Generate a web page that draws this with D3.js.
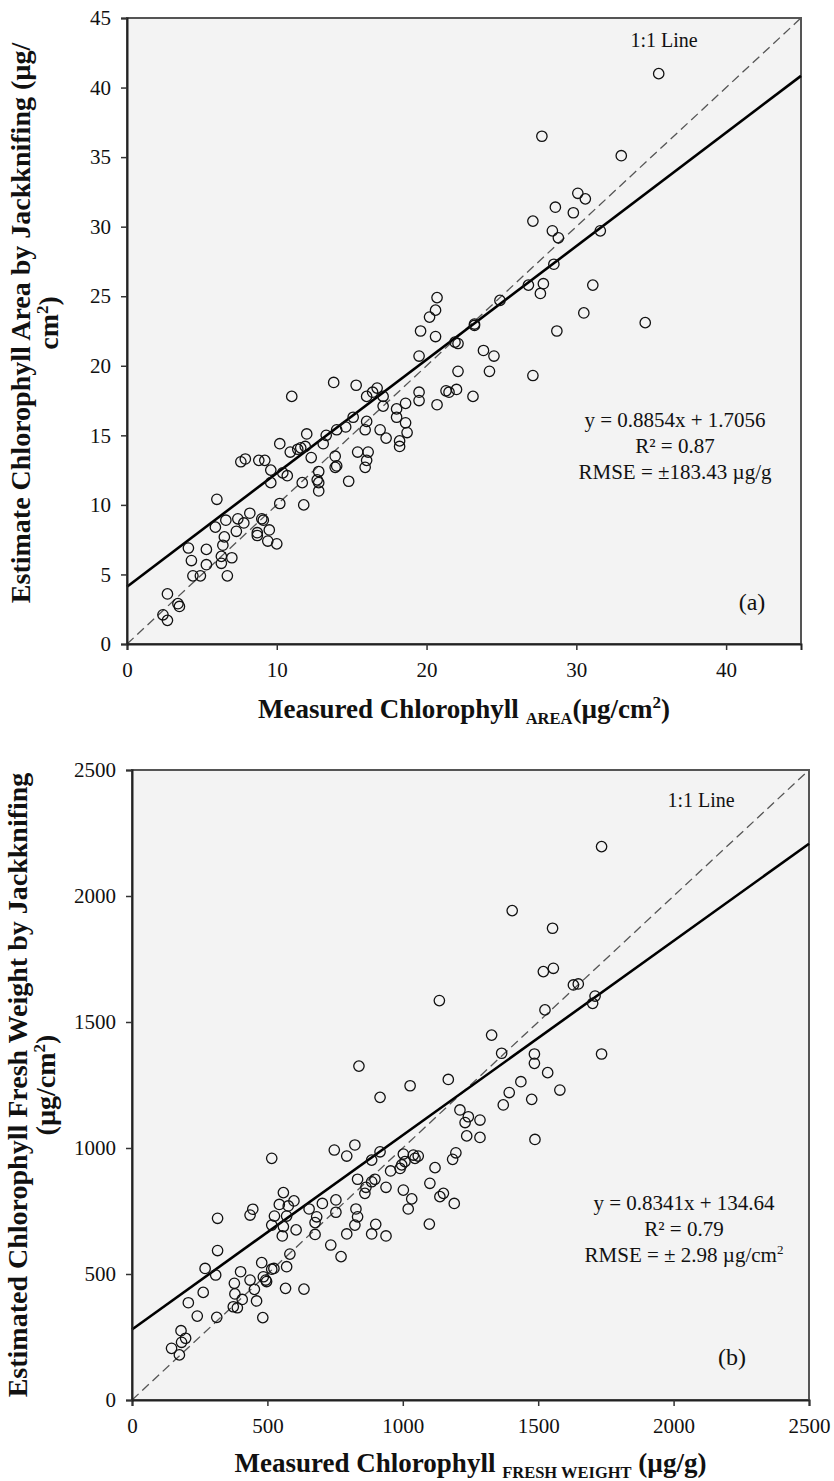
<!DOCTYPE html>
<html>
<head>
<meta charset="utf-8">
<script src="https://cdn.jsdelivr.net/npm/d3@7"></script>
<style>
  body { margin: 0; background: #fff; }
  text { font-family: "Liberation Serif", "Times New Roman", serif; fill: #111; }
</style>
</head>
<body>
<div id="chart"></div>
<script>
// ---- panel (a): chlorophyll per leaf area ----
var areaMeasured = [20.7,20.6,20.2,19.6,20.6,19.5,21.9,22.1,23.2,22.1,19.5,19.5,20.7,21.3,21.5,22.0,23.1,
  13.8,15.3,11.0,16.0,16.4,16.7,17.1,17.1,18.0,18.6,18.0,18.6,18.7,16.9,17.3,18.2,18.2,15.1,14.6,14.0,13.3,
  13.1,16.0,15.9,12.0,11.9,11.6,11.4,10.9,10.2,12.3,7.6,7.9,8.8,9.2,9.6,9.6,10.4,10.7,11.7,12.8,12.7,12.8,
  12.8,13.9,14.0,13.9,15.4,16.1,16.0,15.9,14.8,10.2,11.8,6.0,5.9,6.6,7.4,8.2,9.0,9.1,7.3,7.8,8.7,8.7,9.5,
  9.4,10.0,6.5,6.4,4.1,4.3,5.3,5.3,6.3,6.3,7.0,4.4,4.9,6.7,2.7,3.4,3.5,2.4,2.7,
  35.5,27.7,33.0,30.1,30.6,28.6,29.8,27.1,28.4,28.8,31.6,28.5,26.8,27.8,27.6,31.1,24.9,23.2,30.5,34.6,28.7,
  23.8,24.5,24.2,27.1];
var areaEstimated = [24.9,24.0,23.5,22.5,22.1,20.7,21.7,21.6,22.9,19.6,18.1,17.5,17.2,18.2,18.1,18.3,17.8,
  18.8,18.6,17.8,17.8,18.1,18.4,17.8,17.1,16.9,17.3,16.3,15.9,15.2,15.4,14.8,14.6,14.2,16.3,15.6,15.4,15.0,
  14.4,16.0,15.4,15.1,14.2,14.1,14.0,13.8,14.4,13.4,13.1,13.3,13.2,13.2,12.5,11.6,12.3,12.1,11.6,12.4,11.8,11.6,
  11.0,13.5,12.8,12.7,13.8,13.8,13.2,12.7,11.7,10.1,10.0,10.4,8.4,8.9,9.0,9.4,9.0,8.9,8.1,8.7,8.0,7.8,8.2,
  7.4,7.2,7.7,7.1,6.9,6.0,6.8,5.7,6.3,5.8,6.2,4.9,4.9,4.9,3.6,2.9,2.7,2.1,1.7,
  41.0,36.5,35.1,32.4,32.0,31.4,31.0,30.4,29.7,29.2,29.7,27.3,25.8,25.9,25.2,25.8,24.7,23.0,23.8,23.1,22.5,
  21.1,20.7,19.6,19.3];
var areaTicks = [0, 10, 20, 30, 40];
var areaTicksY = [0, 5, 10, 15, 20, 25, 30, 35, 40, 45];
var areaFit = [4.12, 0.816];   // intercept, slope of the drawn regression line
var areaStats = ["y = 0.8854x + 1.7056", "R² = 0.87", "RMSE = ±183.43 µg/g"];

// ---- panel (b): chlorophyll per fresh weight ----
var freshMeasured = [1135,838,916,1027,1168,1211,1242,
  1734,1404,1553,1519,1556,1630,1648,1710,1701,1525,1328,1365,1734,1486,1486,1535,1436,1393,1371,1476,1580,1285,
  1230,1236,1285,516,747,793,823,916,885,1002,1039,1057,1045,996,990,1008,1196,1184,1119,1100,1150,1137,1190,
  1098,955,897,885,864,860,833,938,1002,1033,1020,827,833,823,793,900,885,938,753,753,703,682,676,676,654,
  734,772,559,544,577,598,571,526,516,559,555,606,436,446,316,316,270,309,263,208,241,313,181,198,183,146,175,
  378,380,374,389,407,401,436,452,460,479,485,494,497,516,524,571,583,567,635,483,1488];
var freshEstimated = [1585,1325,1201,1247,1272,1151,1124,
  2196,1942,1872,1700,1713,1647,1651,1603,1574,1548,1448,1376,1373,1373,1336,1299,1263,1220,1171,1193,1230,1111,
  1101,1048,1042,959,992,968,1012,985,952,976,972,968,959,933,919,946,981,955,922,860,820,807,780,
  698,909,876,866,844,820,876,844,833,798,758,758,727,694,659,697,659,651,794,745,780,727,704,657,758,
  615,569,823,776,770,790,730,730,694,688,651,675,734,757,721,593,522,496,427,386,333,328,275,245,229,205,179,
  463,421,370,366,399,509,476,439,393,545,489,476,470,519,522,529,579,443,440,327,1034];
var freshTicks = [0, 500, 1000, 1500, 2000, 2500];
var freshFit = [280, 0.771];
var freshStats = ["y = 0.8341x + 134.64", "R² = 0.79", "RMSE = ± 2.98 µg/cm"];

var svg = d3.select("#chart").append("svg")
  .attr("width", 834)
  .attr("height", 1481);

function panel(p) {
  var w = p.right - p.left, h = p.bottom - p.top;
  var x = d3.scaleLinear().domain([0, p.max]).range([0, w]);
  var y = d3.scaleLinear().domain([0, p.max]).range([h, 0]);

  var g = svg.append("g").attr("transform", "translate(" + p.left + "," + p.top + ")");

  g.append("rect")
    .attr("width", w).attr("height", h)
    .attr("fill", "#f3f3f3")
    .attr("stroke", "#555").attr("stroke-width", 2);

  // 1:1 line
  g.append("line")
    .attr("x1", x(0)).attr("y1", y(0))
    .attr("x2", x(p.max)).attr("y2", y(p.max))
    .attr("stroke", "#555").attr("stroke-width", 1.3)
    .attr("stroke-dasharray", "9,5");

  // fitted line
  g.append("line")
    .attr("x1", x(0)).attr("y1", y(p.fit[0]))
    .attr("x2", x(p.max)).attr("y2", y(p.fit[0] + p.fit[1] * p.max))
    .attr("stroke", "#000").attr("stroke-width", 2.6);

  g.selectAll("circle.pt")
    .data(d3.zip(p.xs, p.ys))
    .enter().append("circle")
    .attr("class", "pt")
    .attr("cx", d => x(d[0]))
    .attr("cy", d => y(d[1]))
    .attr("r", 5.2)
    .attr("fill", "none")
    .attr("stroke", "#111")
    .attr("stroke-width", 1.3);

  var xa = g.append("g")
    .attr("transform", "translate(0," + h + ")")
    .call(d3.axisBottom(x).tickValues(p.xticks).tickSize(6).tickPadding(12).tickFormat(d3.format("d")));
  var ya = g.append("g")
    .call(d3.axisLeft(y).tickValues(p.yticks).tickSize(6).tickPadding(10).tickFormat(d3.format("d")));
  [xa, ya].forEach(function(a) {
    a.select(".domain").attr("stroke", "#222").attr("stroke-width", 2);
    a.selectAll(".tick line").attr("stroke", "#333").attr("stroke-width", 1.5);
    a.selectAll(".tick text")
      .style("font-family", "Liberation Serif, serif")
      .style("font-size", "21px").attr("fill", "#111");
  });

  // labels inside the plot
  g.append("text")
    .attr("x", p.oneX).attr("y", p.oneY)
    .attr("text-anchor", "middle").style("font-size", "20px")
    .text("1:1 Line");

  var st = g.append("text")
    .attr("text-anchor", "middle").style("font-size", "21px");
  p.stats.forEach(function(s, i) {
    var t = st.append("tspan").attr("x", p.statX).attr("y", p.statY + i * 26).text(s);
    if (i == 2 && p.statSup) t.append("tspan").attr("dy", -8).style("font-size", "13px").text("2");
  });

  g.append("text")
    .attr("x", p.tagX).attr("y", p.tagY)
    .attr("text-anchor", "middle").style("font-size", "24px")
    .text(p.tag);

  // x title, below the axis
  var xt = g.append("text")
    .attr("x", w / 2).attr("y", h + p.xTitleY)
    .attr("text-anchor", "middle")
    .style("font-size", "27px").style("font-weight", "bold");
  xt.append("tspan").text("Measured Chlorophyll ");
  xt.append("tspan").attr("dy", 6).style("font-size", "16.5px").text(p.sub);
  xt.append("tspan").attr("dy", -6).text(p.unit);
  if (p.unitSup) {
    xt.append("tspan").attr("dy", -10).style("font-size", "17px").text("2");
    xt.append("tspan").attr("dy", 10).text(")");
  }

  // y title, two lines
  var yt = svg.append("text")
    .attr("transform", "translate(" + p.yTitleX + "," + (p.top + h / 2 - p.yShift) + ") rotate(-90)")
    .attr("text-anchor", "middle")
    .style("font-size", "28px").style("font-weight", "bold");
  yt.append("tspan").attr("x", 0).attr("y", 0).text(p.yLine1);
  yt.append("tspan").attr("x", 0).attr("y", 28).text(p.yLine2);
  if (p.yLine2Sup) {
    yt.append("tspan").attr("dy", -10).style("font-size", "17px").text("2");
    yt.append("tspan").attr("dy", 10).text(")");
  }
}

panel({
  left: 127, right: 801, top: 18, bottom: 644, max: 45,
  xs: areaMeasured, ys: areaEstimated, xticks: areaTicks, yticks: areaTicksY,
  fit: areaFit, stats: areaStats, statSup: false,
  statX: 548, statY: 409, oneX: 537, oneY: 29, tag: "(a)", tagX: 625, tagY: 592,
  xTitleY: 74, sub: "AREA", unit: "(µg/cm", unitSup: true,
  yTitleX: 30, yShift: 8, yLine1: "Estimate Chlorophyll Area by Jackknifing (µg/", yLine2: "cm", yLine2Sup: true
});

panel({
  left: 132, right: 809, top: 770, bottom: 1400, max: 2500,
  xs: freshMeasured, ys: freshEstimated, xticks: freshTicks, yticks: freshTicks,
  fit: freshFit, stats: freshStats, statSup: true,
  statX: 552, statY: 440, oneX: 569, oneY: 37, tag: "(b)", tagX: 600, tagY: 595,
  xTitleY: 72, sub: "FRESH WEIGHT", unit: " (µg/g)", unitSup: false,
  yTitleX: 27, yShift: 0, yLine1: "Estimated Chlorophyll Fresh Weight by Jackknifing", yLine2: "(µg/cm", yLine2Sup: true
});
</script>
</body>
</html>
